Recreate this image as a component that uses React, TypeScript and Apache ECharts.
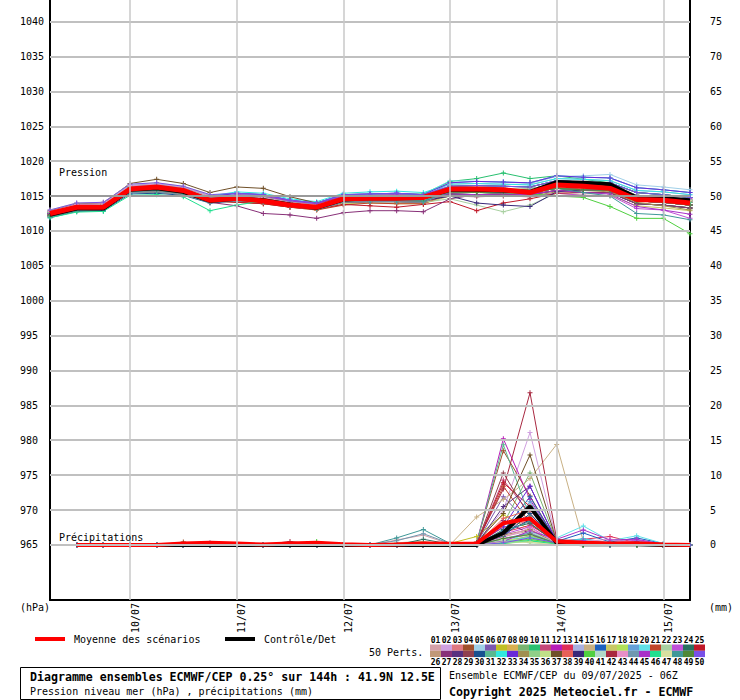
import React, { useEffect, useRef } from 'react';
import * as echarts from 'echarts';

const MONO = 'DejaVu Sans Mono';

// time axis in hours from 09/07 06Z
const pressureHours = [0, 6, 12, 18, 24, 30, 36, 42, 48, 54, 60, 66, 72, 78, 84, 90, 96, 102, 108, 114, 120, 126, 132, 138, 144];
const precipHours = [6, 12, 18, 24, 30, 36, 42, 48, 54, 60, 66, 72, 78, 84, 90, 96, 102, 108, 114, 120, 126, 132, 138, 144];
const dayHours = [18, 42, 66, 90, 114, 138];
const dayLabels = ['10/07', '11/07', '12/07', '13/07', '14/07', '15/07'];
const pressureTicks = [965, 970, 975, 980, 985, 990, 995, 1000, 1005, 1010, 1015, 1020, 1025, 1030, 1035, 1040];
const precipTicks = [0, 5, 10, 15, 20, 25, 30, 35, 40, 45, 50, 55, 60, 65, 70, 75];

const memberColors = [
  '#d4a0a8', '#d0a0e0', '#e07880', '#a0502c', '#a0d0e8', '#7c58b0', '#c0c024', '#d8b050', '#78b470', '#28c070',
  '#c44878', '#b81cb8', '#e03058', '#a8b0e0', '#c8b084', '#1c60c0', '#c8c864', '#b0e058', '#64a0d8', '#60e0e8',
  '#c04428', '#a8d0a0', '#c050d8', '#287060', '#c01828', '#c09878', '#883078', '#583080', '#904050', '#185090',
  '#58b890', '#30e8e0', '#6828d8', '#a09050', '#90d088', '#c0e088', '#705028', '#e86058', '#382878', '#50d040',
  '#b0d8c8', '#a82840', '#e890c8', '#7098b0', '#a830c8', '#20e090', '#d8e0a0', '#409898', '#508838', '#7850e8',
];

// Mean and control (hPa)
const pressureMean = [1012.5, 1013.4, 1013.4, 1016.0, 1016.3, 1015.8, 1014.4, 1014.7, 1014.3, 1013.7, 1013.4, 1014.6, 1014.7, 1014.7, 1014.8, 1016.0, 1016.0, 1015.9, 1015.5, 1016.6, 1016.4, 1016.1, 1014.5, 1014.4, 1014.0];
const pressureControl = [1012.3, 1013.2, 1013.2, 1015.9, 1016.1, 1015.6, 1014.3, 1014.6, 1014.4, 1013.8, 1013.3, 1014.5, 1014.7, 1014.7, 1014.8, 1015.9, 1015.9, 1015.8, 1015.6, 1017.0, 1016.9, 1016.7, 1014.8, 1014.7, 1014.4];

// Members (hPa)
const pm01 = [1012.5, 1013.4, 1013.5, 1016.0, 1016.2, 1015.8, 1014.6, 1015.0, 1014.8, 1014.1, 1013.7, 1014.8, 1014.9, 1014.9, 1014.8, 1015.6, 1015.5, 1015.6, 1015.5, 1016.1, 1015.9, 1015.8, 1014.3, 1014.1, 1013.7];
const pm02 = [1012.6, 1013.5, 1013.6, 1016.2, 1016.3, 1015.9, 1014.7, 1014.8, 1014.6, 1013.9, 1013.5, 1014.6, 1014.7, 1014.7, 1014.6, 1016.1, 1016.2, 1016.1, 1016.0, 1016.8, 1016.6, 1016.5, 1015.1, 1014.8, 1014.4];
const pm03 = [1012.3, 1013.2, 1013.4, 1015.8, 1016.0, 1015.6, 1014.4, 1014.5, 1014.3, 1013.7, 1013.3, 1014.3, 1014.4, 1014.4, 1014.3, 1015.9, 1015.9, 1015.9, 1015.8, 1016.5, 1016.3, 1016.2, 1014.7, 1014.5, 1014.1];
const pm04 = [1012.7, 1013.7, 1013.8, 1016.4, 1016.5, 1016.1, 1014.9, 1015.0, 1014.8, 1014.1, 1013.7, 1014.8, 1014.9, 1014.9, 1014.8, 1015.8, 1015.7, 1015.4, 1015.2, 1016.2, 1016.0, 1015.9, 1014.6, 1014.6, 1014.3];
const pm05 = [1012.5, 1013.4, 1013.5, 1016.0, 1016.2, 1015.8, 1014.6, 1015.2, 1015.0, 1014.3, 1013.9, 1015.0, 1015.1, 1015.2, 1015.0, 1016.4, 1016.5, 1016.6, 1016.8, 1017.8, 1017.9, 1018.1, 1016.6, 1016.3, 1015.9];
const pm06 = [1012.8, 1013.8, 1013.9, 1016.5, 1016.7, 1016.3, 1015.0, 1015.4, 1015.2, 1014.4, 1014.0, 1015.2, 1015.3, 1015.4, 1015.2, 1016.4, 1016.5, 1016.4, 1016.3, 1017.2, 1017.0, 1016.9, 1015.5, 1015.2, 1014.8];
const pm07 = [1012.2, 1013.1, 1013.2, 1015.6, 1015.8, 1015.4, 1014.3, 1014.3, 1014.1, 1013.5, 1013.1, 1014.1, 1014.2, 1014.2, 1014.1, 1015.3, 1015.2, 1015.3, 1015.2, 1015.8, 1015.5, 1015.5, 1013.9, 1013.7, 1013.3];
const pm08 = [1012.6, 1013.5, 1013.6, 1016.2, 1016.3, 1015.9, 1014.7, 1014.5, 1014.3, 1013.7, 1013.3, 1014.3, 1014.4, 1014.4, 1014.3, 1015.6, 1015.5, 1015.6, 1015.5, 1016.1, 1015.9, 1015.8, 1014.3, 1014.1, 1013.7];
const pm09 = [1012.3, 1013.2, 1013.4, 1015.8, 1016.0, 1015.6, 1014.4, 1015.0, 1014.8, 1014.1, 1013.7, 1014.8, 1014.9, 1014.9, 1014.8, 1016.1, 1016.2, 1016.1, 1016.0, 1016.8, 1016.6, 1016.5, 1015.1, 1014.8, 1014.4];
const pm10 = [1012.5, 1013.4, 1013.5, 1016.0, 1016.2, 1015.8, 1014.6, 1015.2, 1015.0, 1014.3, 1013.9, 1015.0, 1015.1, 1015.2, 1015.3, 1017.1, 1017.5, 1018.3, 1017.5, 1017.9, 1017.4, 1016.9, 1015.5, 1015.2, 1014.8];
const pm11 = [1012.2, 1013.1, 1013.2, 1015.6, 1015.8, 1015.4, 1014.3, 1014.8, 1014.6, 1013.9, 1013.5, 1014.6, 1014.7, 1014.7, 1014.6, 1015.6, 1015.5, 1015.6, 1015.5, 1016.1, 1015.9, 1015.8, 1014.3, 1014.1, 1013.7];
const pm12 = [1012.7, 1013.7, 1013.8, 1016.4, 1016.5, 1016.1, 1014.9, 1015.0, 1014.8, 1014.1, 1013.7, 1014.8, 1014.9, 1014.9, 1014.8, 1016.1, 1015.9, 1015.7, 1015.6, 1016.4, 1016.6, 1016.5, 1015.1, 1014.8, 1014.6];
const pm13 = [1012.5, 1013.4, 1013.5, 1016.0, 1016.2, 1015.8, 1014.6, 1014.8, 1014.6, 1013.9, 1013.5, 1014.6, 1014.7, 1014.7, 1014.6, 1016.1, 1016.2, 1016.1, 1016.0, 1016.8, 1016.6, 1016.5, 1015.1, 1014.8, 1014.4];
const pm14 = [1012.6, 1013.5, 1013.6, 1016.2, 1016.3, 1015.9, 1014.7, 1015.2, 1015.0, 1014.3, 1013.9, 1015.0, 1015.1, 1015.2, 1015.0, 1016.7, 1016.8, 1016.7, 1016.6, 1017.5, 1017.4, 1017.2, 1015.8, 1015.6, 1015.2];
const pm15 = [1012.3, 1013.2, 1013.4, 1015.8, 1016.0, 1015.6, 1014.4, 1014.3, 1014.1, 1013.5, 1013.1, 1014.1, 1014.2, 1014.2, 1014.1, 1015.3, 1015.2, 1015.3, 1015.2, 1015.8, 1015.5, 1015.5, 1013.9, 1013.7, 1013.3];
const pm16 = [1012.1, 1012.9, 1013.1, 1015.5, 1015.6, 1015.2, 1014.1, 1014.5, 1014.3, 1013.7, 1013.3, 1014.3, 1014.4, 1014.4, 1014.3, 1015.3, 1015.2, 1015.3, 1015.2, 1015.8, 1015.5, 1015.5, 1013.9, 1013.7, 1013.3];
const pm17 = [1012.2, 1013.1, 1013.2, 1015.6, 1015.8, 1015.4, 1014.3, 1014.1, 1013.9, 1013.4, 1013.0, 1013.9, 1014.0, 1013.9, 1013.9, 1015.0, 1014.9, 1015.0, 1014.9, 1015.4, 1015.1, 1015.1, 1013.6, 1013.3, 1012.9];
const pm18 = [1012.7, 1013.7, 1013.8, 1016.4, 1016.5, 1016.1, 1014.9, 1014.8, 1014.6, 1013.9, 1013.5, 1014.6, 1014.7, 1014.7, 1014.6, 1016.1, 1016.2, 1016.1, 1016.0, 1016.8, 1016.6, 1016.5, 1015.1, 1014.8, 1014.4];
const pm19 = [1012.3, 1013.2, 1013.4, 1015.8, 1016.0, 1015.6, 1014.4, 1015.0, 1014.8, 1014.1, 1013.7, 1014.8, 1014.9, 1014.9, 1014.8, 1016.9, 1017.1, 1017.0, 1016.9, 1017.9, 1017.7, 1017.6, 1016.2, 1015.9, 1015.5];
const pm20 = [1012.6, 1013.5, 1013.6, 1016.2, 1016.3, 1015.9, 1014.7, 1015.4, 1015.2, 1014.4, 1014.0, 1015.2, 1015.3, 1015.4, 1015.2, 1017.2, 1017.1, 1017.0, 1016.9, 1017.9, 1017.7, 1017.6, 1016.2, 1015.9, 1015.5];
const pm21 = [1012.3, 1013.2, 1013.4, 1015.8, 1016.0, 1015.6, 1014.4, 1014.1, 1013.9, 1013.4, 1013.0, 1013.7, 1014.0, 1013.9, 1013.9, 1015.3, 1015.2, 1015.3, 1015.2, 1015.8, 1015.5, 1015.5, 1013.9, 1013.7, 1013.3];
const pm22 = [1012.2, 1013.1, 1013.2, 1015.6, 1015.8, 1015.4, 1014.3, 1014.3, 1014.1, 1013.5, 1013.1, 1014.1, 1014.2, 1014.2, 1014.1, 1014.6, 1013.7, 1012.75, 1013.7, 1015.4, 1015.5, 1015.5, 1014.3, 1014.1, 1013.7];
const pm23 = [1012.5, 1013.4, 1013.5, 1016.0, 1016.2, 1015.8, 1014.6, 1014.5, 1014.3, 1013.7, 1013.3, 1014.3, 1014.4, 1014.4, 1014.3, 1015.0, 1014.9, 1015.0, 1014.9, 1015.4, 1015.1, 1015.1, 1013.2, 1013.0, 1011.8];
const pm24 = [1012.3, 1013.2, 1013.4, 1015.8, 1016.0, 1015.6, 1014.4, 1014.8, 1014.6, 1013.9, 1013.5, 1014.6, 1014.7, 1014.7, 1014.6, 1015.3, 1015.2, 1015.3, 1015.2, 1015.8, 1015.5, 1015.5, 1013.9, 1013.7, 1013.3];
const pm25 = [1012.2, 1013.1, 1013.2, 1015.6, 1015.8, 1015.4, 1014.3, 1014.1, 1013.9, 1013.4, 1013.1, 1013.8, 1013.6, 1013.4, 1013.8, 1014.2, 1012.9, 1014.0, 1014.6, 1015.4, 1015.5, 1015.5, 1014.3, 1014.1, 1013.7];
const pm26 = [1012.1, 1012.9, 1013.1, 1015.5, 1015.6, 1015.2, 1014.1, 1014.3, 1014.1, 1013.5, 1013.1, 1014.1, 1014.2, 1014.2, 1014.1, 1015.6, 1015.5, 1015.6, 1015.5, 1016.1, 1015.9, 1015.8, 1014.3, 1014.1, 1013.7];
const pm27 = [1012.1, 1012.9, 1013.1, 1015.5, 1015.6, 1015.2, 1014.1, 1013.6, 1012.5, 1012.3, 1011.8, 1012.6, 1012.9, 1012.9, 1012.75, 1014.6, 1015.2, 1015.3, 1015.2, 1015.8, 1015.5, 1015.5, 1013.9, 1013.7, 1013.3];
const pm28 = [1012.6, 1013.5, 1013.6, 1016.2, 1016.3, 1015.9, 1014.7, 1014.8, 1014.6, 1013.9, 1013.5, 1014.6, 1014.7, 1014.7, 1014.6, 1016.4, 1016.5, 1016.4, 1016.3, 1017.2, 1017.0, 1016.9, 1015.5, 1015.2, 1014.8];
const pm29 = [1012.5, 1013.4, 1013.5, 1016.0, 1016.2, 1015.8, 1014.6, 1014.5, 1014.3, 1013.7, 1013.3, 1014.3, 1014.4, 1014.4, 1014.3, 1015.9, 1015.9, 1015.9, 1015.8, 1016.5, 1016.3, 1016.2, 1014.7, 1014.5, 1014.1];
const pm30 = [1011.9, 1012.8, 1012.9, 1015.3, 1015.4, 1015.1, 1014.0, 1014.3, 1014.1, 1013.5, 1013.1, 1014.1, 1014.2, 1014.2, 1014.1, 1016.1, 1016.2, 1016.1, 1016.0, 1016.8, 1016.6, 1016.5, 1015.1, 1014.8, 1014.4];
const pm31 = [1012.2, 1013.1, 1013.2, 1015.6, 1015.8, 1015.4, 1014.3, 1014.8, 1014.6, 1013.9, 1013.5, 1014.6, 1014.7, 1014.7, 1014.6, 1016.4, 1016.5, 1016.4, 1016.3, 1017.2, 1017.0, 1016.9, 1015.5, 1015.2, 1014.8];
const pm32 = [1012.8, 1013.8, 1013.9, 1016.5, 1016.7, 1016.3, 1015.0, 1015.6, 1015.4, 1014.6, 1014.2, 1015.4, 1015.6, 1015.7, 1015.5, 1016.7, 1016.8, 1016.7, 1016.6, 1017.5, 1017.4, 1017.2, 1015.8, 1015.6, 1015.2];
const pm33 = [1012.7, 1013.7, 1013.8, 1016.4, 1016.5, 1016.1, 1014.9, 1015.4, 1015.2, 1014.4, 1014.0, 1015.2, 1015.3, 1015.4, 1015.2, 1016.9, 1017.1, 1017.0, 1016.9, 1017.9, 1017.7, 1017.6, 1016.2, 1015.9, 1015.5];
const pm34 = [1012.1, 1012.9, 1013.1, 1015.5, 1015.6, 1015.2, 1014.1, 1014.5, 1014.3, 1013.7, 1013.3, 1014.3, 1014.4, 1014.4, 1014.3, 1015.0, 1015.0, 1015.1, 1015.0, 1015.6, 1015.8, 1015.6, 1014.1, 1013.6, 1013.0];
const pm35 = [1012.6, 1013.5, 1013.6, 1016.2, 1016.3, 1015.9, 1014.7, 1014.3, 1014.1, 1013.5, 1013.1, 1014.1, 1014.2, 1014.2, 1014.1, 1015.6, 1015.5, 1015.6, 1015.5, 1016.1, 1015.9, 1015.8, 1014.3, 1014.1, 1013.7];
const pm36 = [1012.5, 1013.4, 1013.5, 1016.0, 1016.2, 1015.8, 1014.6, 1014.8, 1014.6, 1013.9, 1013.5, 1014.6, 1014.7, 1014.7, 1014.6, 1015.9, 1015.9, 1015.9, 1015.8, 1016.5, 1016.3, 1016.2, 1014.7, 1014.5, 1014.1];
const pm37 = [1012.9, 1013.9, 1014.0, 1016.8, 1017.4, 1016.8, 1015.5, 1016.3, 1016.1, 1014.9, 1014.0, 1014.8, 1014.9, 1014.9, 1014.8, 1015.6, 1015.5, 1015.6, 1015.5, 1016.1, 1015.9, 1015.8, 1014.3, 1014.1, 1013.7];
const pm38 = [1012.2, 1013.1, 1013.2, 1015.6, 1015.8, 1015.4, 1014.3, 1014.5, 1014.3, 1013.7, 1013.3, 1014.3, 1014.4, 1014.4, 1014.3, 1015.9, 1015.9, 1015.9, 1015.8, 1016.5, 1016.3, 1016.2, 1014.7, 1014.5, 1014.1];
const pm39 = [1012.5, 1013.4, 1013.5, 1016.0, 1016.2, 1015.8, 1014.6, 1014.5, 1014.3, 1013.7, 1013.3, 1014.3, 1014.4, 1014.4, 1014.3, 1015.0, 1014.0, 1013.7, 1013.5, 1015.6, 1015.9, 1015.8, 1014.3, 1014.1, 1013.7];
const pm40 = [1012.6, 1013.5, 1013.6, 1016.2, 1016.3, 1015.9, 1014.7, 1015.0, 1014.8, 1014.1, 1013.7, 1014.8, 1014.9, 1014.9, 1014.8, 1015.6, 1015.5, 1015.4, 1015.3, 1015.0, 1014.8, 1013.5, 1011.8, 1011.8, 1009.6];
const pm41 = [1012.7, 1013.7, 1013.8, 1016.4, 1016.5, 1016.1, 1014.9, 1014.8, 1014.6, 1013.9, 1013.5, 1014.6, 1014.7, 1014.7, 1014.6, 1016.1, 1016.2, 1016.1, 1016.0, 1016.8, 1016.6, 1016.5, 1015.1, 1014.8, 1014.4];
const pm42 = [1012.3, 1013.2, 1013.4, 1015.8, 1016.0, 1015.6, 1014.4, 1014.3, 1014.1, 1013.5, 1013.1, 1014.1, 1014.2, 1014.2, 1014.1, 1015.6, 1015.5, 1015.6, 1015.5, 1016.1, 1015.9, 1015.8, 1014.3, 1014.1, 1013.7];
const pm43 = [1012.8, 1013.8, 1013.9, 1016.5, 1016.7, 1016.3, 1015.0, 1015.0, 1014.8, 1014.1, 1013.7, 1014.8, 1014.9, 1014.9, 1014.8, 1015.9, 1015.9, 1015.9, 1015.8, 1016.5, 1016.3, 1016.2, 1014.7, 1014.5, 1014.1];
const pm44 = [1012.1, 1012.9, 1013.1, 1015.5, 1015.6, 1015.2, 1014.1, 1014.3, 1014.1, 1013.5, 1013.1, 1014.1, 1014.2, 1014.2, 1014.1, 1015.6, 1015.5, 1015.6, 1015.5, 1016.1, 1015.9, 1015.8, 1014.3, 1014.1, 1013.7];
const pm45 = [1012.5, 1013.4, 1013.5, 1016.0, 1016.2, 1015.8, 1014.6, 1015.2, 1015.0, 1014.3, 1013.9, 1015.0, 1015.1, 1015.2, 1015.0, 1015.3, 1015.2, 1015.3, 1015.2, 1015.8, 1015.5, 1015.3, 1013.5, 1013.0, 1012.4];
const pm46 = [1011.9, 1012.7, 1012.8, 1015.1, 1015.2, 1014.9, 1012.9, 1013.7, 1014.3, 1013.7, 1013.3, 1014.3, 1014.4, 1014.4, 1014.3, 1015.9, 1015.9, 1015.9, 1015.8, 1016.5, 1016.3, 1016.2, 1014.7, 1014.5, 1014.1];
const pm47 = [1013.0, 1014.0, 1014.1, 1016.7, 1016.9, 1016.4, 1015.2, 1014.8, 1014.6, 1013.9, 1013.5, 1014.6, 1014.7, 1014.7, 1014.6, 1016.1, 1016.2, 1016.1, 1016.0, 1016.8, 1016.6, 1016.5, 1015.1, 1014.8, 1014.4];
const pm48 = [1012.2, 1013.1, 1013.2, 1015.6, 1015.8, 1015.4, 1014.3, 1014.5, 1014.3, 1013.7, 1013.3, 1014.3, 1014.4, 1014.4, 1014.3, 1015.6, 1015.5, 1015.6, 1015.5, 1016.1, 1015.5, 1015.0, 1012.5, 1012.3, 1011.6];
const pm49 = [1012.3, 1013.2, 1013.4, 1015.8, 1016.0, 1015.6, 1014.4, 1014.8, 1014.6, 1013.9, 1013.5, 1014.6, 1014.7, 1014.7, 1014.6, 1015.6, 1015.5, 1015.6, 1015.5, 1016.1, 1015.9, 1015.8, 1014.3, 1014.1, 1013.7];
const pm50 = [1013.0, 1014.0, 1014.1, 1016.7, 1016.9, 1016.4, 1015.2, 1015.4, 1015.2, 1014.4, 1014.0, 1015.2, 1015.3, 1015.4, 1015.2, 1016.4, 1016.5, 1016.4, 1016.3, 1017.2, 1017.0, 1016.9, 1015.5, 1015.2, 1014.8];

// Precipitation 6h (mm), h6..h144
const precipMean = [0, 0, 0, 0, 0.2, 0.3, 0.2, 0.05, 0.2, 0.3, 0.1, 0, 0.05, 0.2, 0.15, 0.2, 3.1, 3.8, 0.5, 0.3, 0.2, 0.25, 0.05, 0];
const precipControl = [0, 0, 0, 0, 0, 0, 0, 0, 0, 0, 0, 0, 0, 0, 0, 0, 1.7, 5.5, 0.3, 0.1, 0.1, 0.1, 0, 0];

const rm01 = [0, 0, 0, 0, 0, 0, 0, 0, 0, 0, 0, 0, 0.7, 1.4, 0.1, 0, 1.2, 2.0, 0.3, 0.2, 0, 0, 0, 0];
const rm02 = [0, 0, 0, 0, 0, 0, 0, 0, 0, 0, 0, 0, 0, 0, 0, 0.2, 5.0, 16.1, 0.6, 0.3, 0, 0, 0, 0];
const rm03 = [0, 0, 0, 0, 0, 0, 0, 0, 0, 0, 0, 0, 0, 0, 0, 0.1, 2.5, 3.5, 0.4, 0, 0, 0, 0, 0];
const rm04 = [0, 0, 0, 0, 0.4, 0, 0, 0, 0, 0, 0, 0, 0, 0, 0, 0.4, 13.5, 7.0, 0.5, 0, 0, 0, 0, 0];
const rm05 = [0, 0, 0, 0, 0, 0, 0, 0, 0, 0, 0, 0, 0, 0, 0, 0, 0.8, 1.5, 0.2, 0.4, 0, 0, 0, 0];
const rm06 = [0, 0, 0, 0, 0, 0.3, 0, 0, 0, 0, 0, 0, 0, 0, 0, 0.2, 6.9, 3.0, 0.3, 0.2, 0, 0, 0, 0];
const rm07 = [0, 0, 0, 0, 0, 0, 0, 0, 0, 0, 0, 0, 0, 0, 0.2, 1.2, 4.3, 2.2, 0.2, 0, 0, 0, 0, 0];
const rm08 = [0, 0, 0, 0, 0, 0, 0, 0, 0, 0, 0, 0, 0, 0, 0, 0, 0.5, 1.0, 0.1, 0, 0, 0, 0, 0];
const rm09 = [0, 0, 0, 0, 0, 0, 0, 0, 0, 0, 0, 0, 0, 0, 0, 0.3, 3.0, 10.3, 0.5, 0.2, 0, 0, 0, 0];
const rm10 = [0, 0, 0, 0, 0, 0, 0, 0, 0, 0, 0, 0, 0, 0, 0, 0, 0.3, 0.6, 0.1, 0, 0, 0, 0, 0];
const rm11 = [0, 0, 0, 0, 0, 0, 0, 0, 0, 0, 0, 0, 0, 0, 0, 0.2, 9.3, 4.5, 0.4, 0, 0, 0, 0, 0];
const rm12 = [0, 0, 0, 0, 0, 0, 0, 0, 0, 0, 0, 0, 0, 0, 0, 0.3, 15.2, 6.5, 0.5, 0.3, 0, 0, 0, 0];
const rm13 = [0, 0, 0, 0, 0, 0.2, 0, 0, 0, 0, 0, 0, 0, 0, 0, 0, 1.8, 2.8, 0.6, 0.8, 1.2, 0.3, 0, 0];
const rm14 = [0, 0, 0, 0, 0, 0, 0, 0, 0, 0, 0, 0, 0, 0, 0, 0, 0.4, 0.9, 0.1, 0.3, 0, 0, 0, 0];
const rm15 = [0, 0, 0, 0, 0, 0, 0, 0, 0, 0, 0, 0, 0.3, 0.5, 0, 4.0, 6.5, 9.5, 14.4, 0.5, 0, 0, 0, 0];
const rm16 = [0, 0, 0, 0, 0, 0, 0, 0, 0, 0, 0, 0, 0, 0, 0, 0.1, 2.0, 6.9, 0.5, 1.7, 0.4, 1.0, 0.2, 0];
const rm17 = [0, 0, 0, 0, 0, 0, 0, 0, 0, 0, 0, 0, 0, 0, 0, 0.1, 0.6, 1.2, 0.2, 0, 0, 0, 0, 0];
const rm18 = [0, 0, 0, 0, 0, 0, 0, 0, 0, 0, 0, 0, 0, 0, 0, 0, 0.2, 0.5, 0, 0, 0, 0, 0, 0];
const rm19 = [0, 0, 0, 0, 0, 0, 0, 0, 0, 0, 0, 0, 0, 0, 0, 0, 1.0, 6.2, 0.4, 0.9, 0.3, 0.6, 0, 0];
const rm20 = [0, 0, 0, 0, 0, 0, 0, 0, 0, 0, 0, 0, 0, 0, 0, 0, 0.3, 1.8, 1.0, 2.7, 0.6, 1.3, 0.2, 0];
const rm21 = [0, 0, 0, 0, 0, 0, 0, 0, 0, 0, 0, 0, 0, 0, 0, 0.2, 8.4, 3.1, 0.3, 0, 0, 0, 0, 0];
const rm22 = [0, 0, 0, 0, 0, 0, 0, 0, 0, 0, 0, 0, 0, 0, 0, 0, 0.7, 0.3, 0.1, 0, 0, 0, 0, 0];
const rm23 = [0, 0, 0, 0, 0, 0, 0, 0, 0, 0, 0, 0, 0, 0, 0, 0, 1.5, 2.6, 0.2, 0.6, 0.2, 0.7, 0, 0];
const rm24 = [0, 0, 0, 0, 0, 0, 0, 0, 0, 0, 0, 0, 0, 0.8, 0.1, 0, 2.2, 3.1, 0.3, 0, 0, 0, 0, 0];
const rm25 = [0, 0, 0, 0, 0, 0, 0, 0, 0, 0, 0, 0, 0, 0, 0, 0.2, 8.9, 5.5, 0.4, 0, 0, 0, 0, 0];
const rm26 = [0, 0, 0, 0, 0, 0, 0, 0, 0, 0, 0, 0, 0, 0, 0, 0.1, 1.0, 1.4, 0.2, 0, 0, 0, 0, 0];
const rm27 = [0, 0, 0, 0, 0, 0, 0, 0, 0, 0, 0, 0, 0, 0, 0, 0, 3.5, 1.6, 0.3, 0.4, 0.2, 0.4, 0, 0];
const rm28 = [0, 0, 0, 0, 0, 0, 0, 0, 0, 0, 0, 0, 0, 0, 0, 0.1, 5.5, 8.4, 0.4, 0.3, 0, 0, 0, 0];
const rm29 = [0, 0, 0, 0, 0, 0, 0, 0, 0, 0, 0, 0, 0, 0, 0, 0.2, 10.3, 4.0, 0.3, 0, 0, 0, 0, 0];
const rm30 = [0, 0, 0, 0, 0, 0, 0, 0, 0, 0, 0, 0, 0, 0, 0, 0, 1.2, 4.5, 0.3, 0, 0, 0, 0, 0];
const rm31 = [0, 0, 0, 0, 0, 0, 0, 0, 0, 0, 0, 0, 0, 0, 0, 0.3, 14.35, 4.0, 0.6, 0, 0, 0, 0, 0];
const rm32 = [0, 0, 0, 0, 0, 0, 0, 0, 0, 0, 0, 0, 0, 0, 0, 0, 0.5, 1.1, 0.4, 0.8, 0.2, 0.3, 0, 0];
const rm33 = [0, 0, 0, 0, 0, 0.2, 0, 0, 0, 0, 0, 0, 0, 0, 0, 0.1, 2.6, 8.4, 0.5, 0.5, 0.2, 0.4, 0, 0];
const rm34 = [0, 0, 0, 0, 0, 0, 0, 0, 0, 0, 0, 0, 0, 0, 0, 0.1, 1.4, 2.2, 0.2, 0, 0, 0, 0, 0];
const rm35 = [0, 0, 0, 0, 0, 0, 0, 0, 0, 0, 0, 0, 0, 0, 0, 0, 0.4, 1.3, 0.1, 0, 0, 0, 0, 0];
const rm36 = [0, 0, 0, 0, 0, 0, 0, 0, 0, 0, 0, 0, 0, 0, 0, 0, 0.8, 0.7, 0.1, 0, 0, 0, 0, 0];
const rm37 = [0, 0, 0, 0, 0.2, 0, 0, 0, 0, 0, 0, 0, 0, 0, 0, 0.3, 4.5, 12.9, 0.5, 0.2, 0, 0, 0, 0];
const rm38 = [0, 0, 0, 0, 0, 0, 0, 0, 0, 0, 0, 0, 0, 0, 0, 0.1, 3.8, 5.0, 0.5, 0.6, 0.3, 0.2, 0, 0];
const rm39 = [0, 0, 0, 0, 0, 0, 0, 0, 0, 0, 0, 0, 0, 0, 0, 0, 1.6, 3.6, 0.3, 0, 0, 0, 0, 0];
const rm40 = [0, 0, 0, 0, 0, 0, 0, 0, 0, 0.5, 0, 0, 0, 0, 0, 0, 0.3, 0.8, 0.2, 0, 0, 0, 0, 0];
const rm41 = [0, 0, 0, 0, 0, 0, 0, 0, 0, 0, 0, 0, 0, 0, 0, 0, 0.6, 1.9, 0.2, 0, 0, 0, 0, 0];
const rm42 = [0, 0, 0, 0, 0, 0, 0, 0, 0.5, 0, 0, 0, 0, 0, 0, 0.3, 8.0, 21.8, 0.8, 0.4, 0.2, 0, 0, 0];
const rm43 = [0, 0, 0, 0, 0, 0, 0, 0, 0, 0, 0, 0, 0, 0, 0, 0, 1.1, 2.4, 0.3, 0.5, 0.8, 0.3, 0, 0];
const rm44 = [0, 0, 0, 0, 0, 0, 0, 0, 0, 0, 0, 0, 0.6, 1.6, 0.2, 0, 0.9, 1.7, 0.2, 0, 0, 0, 0, 0];
const rm45 = [0, 0, 0, 0, 0, 0, 0, 0, 0, 0, 0, 0, 0, 0, 0, 0, 0.5, 2.0, 0.8, 2.15, 0.7, 0.8, 0.1, 0];
const rm46 = [0, 0, 0, 0, 0, 0, 0, 0, 0, 0, 0, 0, 0, 0, 0, 0, 0.2, 0.6, 0.1, 0, 0, 0, 0, 0];
const rm47 = [0, 0, 0, 0, 0, 0, 0, 0, 0, 0, 0, 0, 0, 0, 0, 0, 0.4, 0.4, 0, 0, 0, 0, 0, 0];
const rm48 = [0, 0, 0, 0, 0, 0, 0, 0, 0, 0, 0, 0, 1.0, 2.2, 0.2, 0, 1.8, 3.4, 0.3, 0, 0, 0, 0, 0];
const rm49 = [0, 0, 0, 0, 0, 0, 0, 0, 0, 0, 0, 0, 0, 0, 0, 0, 0.9, 1.5, 0.2, 0, 0, 0, 0, 0];
const rm50 = [0, 0, 0, 0, 0, 0, 0, 0, 0, 0, 0, 0, 0, 0, 0, 0, 0.3, 1.0, 0.3, 0.6, 0, 0.2, 0, 0];

const pressureMembers = [pm01, pm02, pm03, pm04, pm05, pm06, pm07, pm08, pm09, pm10, pm11, pm12, pm13, pm14, pm15, pm16, pm17, pm18, pm19, pm20, pm21, pm22, pm23, pm24, pm25, pm26, pm27, pm28, pm29, pm30, pm31, pm32, pm33, pm34, pm35, pm36, pm37, pm38, pm39, pm40, pm41, pm42, pm43, pm44, pm45, pm46, pm47, pm48, pm49, pm50];
const precipMembers = [rm01, rm02, rm03, rm04, rm05, rm06, rm07, rm08, rm09, rm10, rm11, rm12, rm13, rm14, rm15, rm16, rm17, rm18, rm19, rm20, rm21, rm22, rm23, rm24, rm25, rm26, rm27, rm28, rm29, rm30, rm31, rm32, rm33, rm34, rm35, rm36, rm37, rm38, rm39, rm40, rm41, rm42, rm43, rm44, rm45, rm46, rm47, rm48, rm49, rm50];

const PLUS = 'path://M2,0H3V2H5V3H3V5H2V3H0V2H2Z';

function txt(x: number, y: number, text: string, extra: any = {}) {
  return {
    type: 'text', x, y, silent: true, z: 50,
    style: { text, fill: '#000000', fontFamily: MONO, fontSize: 10, align: 'left', verticalAlign: 'middle', ...extra },
  };
}

function buildOption() {
  const series: any[] = [];
  series.push({
    type: 'line', data: [], yAxisIndex: 0, z: 1, silent: true,
    markLine: {
      silent: true, symbol: ['none', 'none'], label: { show: false },
      lineStyle: { type: 'solid', color: '#c0c0c0', width: 2 },
      emphasis: { disabled: true },
      data: [
        ...pressureTicks.map((v) => ({ yAxis: v, lineStyle: { type: 'solid', color: v === 1015 ? '#9a9a9a' : '#c0c0c0', width: 2 } })),
        ...dayHours.map((h) => ({ xAxis: h, lineStyle: { type: 'solid', color: '#c8c8c8', width: 1.5 } })),
      ],
    },
  });
  pressureMembers.forEach((vals, i) => {
    series.push({
      type: 'line', yAxisIndex: 0, z: 2, silent: true,
      data: pressureHours.map((h, j) => [h, vals[j]]),
      symbol: PLUS, symbolSize: 5, showSymbol: true,
      lineStyle: { color: memberColors[i], width: 1 },
      itemStyle: { color: memberColors[i] },
    });
  });
  precipMembers.forEach((vals, i) => {
    series.push({
      type: 'line', yAxisIndex: 1, z: 2, silent: true,
      data: precipHours.map((h, j) => [h, vals[j]]),
      symbol: PLUS, symbolSize: 5, showSymbol: true,
      lineStyle: { color: memberColors[i], width: 1 },
      itemStyle: { color: memberColors[i] },
    });
  });
  series.push({
    type: 'line', yAxisIndex: 0, z: 3, silent: true, symbol: 'none', showSymbol: false,
    data: pressureHours.map((h, j) => [h, pressureControl[j]]),
    lineStyle: { color: '#000000', width: 4 },
  });
  series.push({
    type: 'line', yAxisIndex: 1, z: 3, silent: true, symbol: 'none', showSymbol: false,
    data: precipHours.map((h, j) => [h, precipControl[j]]),
    lineStyle: { color: '#000000', width: 4 },
  });
  series.push({
    type: 'line', yAxisIndex: 0, z: 4, silent: true, symbol: 'none', showSymbol: false,
    data: pressureHours.map((h, j) => [h, pressureMean[j]]),
    lineStyle: { color: '#ff0000', width: 5 },
  });
  series.push({
    type: 'line', yAxisIndex: 1, z: 4, silent: true, symbol: 'none', showSymbol: false,
    data: precipHours.map((h, j) => [h, precipMean[j]]),
    lineStyle: { color: '#ff0000', width: 4 },
  });

  const graphics: any[] = [
    txt(59, 172, 'Pression'),
    txt(59, 537, 'Précipitations'),
    txt(20, 607, '(hPa)'),
    txt(709, 607, '(mm)'),
    { type: 'line', silent: true, shape: { x1: 35, y1: 639, x2: 65, y2: 639 }, style: { stroke: '#ff0000', lineWidth: 4 } },
    txt(74, 639, 'Moyenne des scénarios'),
    { type: 'line', silent: true, shape: { x1: 225, y1: 639, x2: 255, y2: 639 }, style: { stroke: '#000000', lineWidth: 4 } },
    txt(264, 639, 'Contrôle/Det'),
    txt(369, 652, '50 Perts.'),
    { type: 'rect', silent: true, shape: { x: 20.5, y: 667.5, width: 420, height: 32 }, style: { fill: '#ffffff', stroke: '#000000', lineWidth: 1 } },
    txt(30, 677, 'Diagramme ensembles ECMWF/CEP 0.25° sur 144h : 41.9N 12.5E', { fontWeight: 'bold', fontSize: 11.6 }),
    txt(30, 691, 'Pression niveau mer (hPa) , précipitations (mm)'),
    txt(449, 675, 'Ensemble ECMWF/CEP du 09/07/2025 - 06Z'),
    txt(449, 692, 'Copyright 2025 Meteociel.fr - ECMWF', { fontWeight: 'bold', fontSize: 11.6 }),
  ];
  memberColors.forEach((c, i) => {
    const col = i % 25;
    const row = Math.floor(i / 25);
    const x = 430 + col * 11;
    graphics.push({ type: 'rect', silent: true, shape: { x, y: 644.5 + row * 6.3, width: 11, height: 6.3 }, style: { fill: c } });
    graphics.push(txt(x + 5.5, row === 0 ? 640 : 662.5, String(i + 1).padStart(2, '0'), { align: 'center', fontWeight: 'bold', fontSize: 8 }));
  });

  const axisLabelBase = { color: '#000', fontFamily: MONO, fontSize: 10 };

  return {
    animation: false,
    backgroundColor: '#ffffff',
    textStyle: { fontFamily: MONO },
    grid: { left: 50, top: 0, width: 640, height: 600, containLabel: false, outerBoundsMode: 'none' },
    xAxis: {
      type: 'value', min: 0, max: 144,
      axisLine: { show: true, onZero: false, lineStyle: { color: '#000', width: 2 } },
      axisTick: { show: false },
      splitLine: { show: false },
      axisLabel: {
        ...axisLabelBase,
        customValues: dayHours,
        rotate: 90,
        margin: 3,
        verticalAlign: 'top',
        formatter: (v: number) => {
          const k = dayHours.findIndex((h) => Math.abs(h - v) < 0.01);
          return k >= 0 ? dayLabels[k] : '';
        },
      },
    },
    yAxis: [
      {
        type: 'value', min: 957.1, max: 1043.1, position: 'left',
        axisLine: { show: true, onZero: false, lineStyle: { color: '#000', width: 2 } },
        axisTick: { show: false },
        splitLine: { show: false },
        axisLabel: { ...axisLabelBase, customValues: pressureTicks, align: 'left', margin: 30, formatter: (v: number) => String(Math.round(v)) },
      },
      {
        type: 'value', min: -7.9, max: 78.1, position: 'right',
        axisLine: { show: true, onZero: false, lineStyle: { color: '#000', width: 2 } },
        axisTick: { show: false },
        splitLine: { show: false },
        axisLabel: { ...axisLabelBase, customValues: precipTicks, align: 'left', margin: 20, formatter: (v: number) => String(Math.round(v)) },
      },
    ],
    series,
    graphic: graphics,
  };
}

export default function App() {
  const ref = useRef<HTMLDivElement>(null);
  useEffect(() => {
    if (!ref.current) return;
    const chart = echarts.init(ref.current, null, { renderer: 'svg' });
    chart.setOption(buildOption() as any);
    return () => chart.dispose();
  }, []);
  return <div ref={ref} style={{ position: 'absolute', left: 0, top: 0, width: '740px', height: '700px' }} />;
}
